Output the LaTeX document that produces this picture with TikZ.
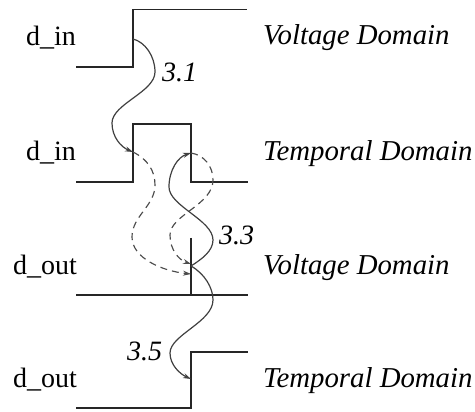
\documentclass[tikz,border=0pt]{standalone}
\usepackage{fontspec}
\setmainfont{Liberation Serif}
\usetikzlibrary{arrows.meta}
\begin{document}
\begin{tikzpicture}[x=1pt,y=-1pt,
  wave/.style={line width=1.7pt, color=black!85, line join=miter},
  link/.style={line width=1.2pt, color=black!75, -{Stealth[length=8pt,width=5pt]}},
  dlink/.style={line width=1.15pt, color=black!70, dash pattern=on 7pt off 5pt, -{Stealth[length=8pt,width=5pt]}},
  sig/.style={anchor=base west, inner sep=0pt, font=\fontsize{28}{32}\selectfont},
  dom/.style={anchor=base west, inner sep=0pt, font=\fontsize{28.8}{32}\selectfont\itshape},
  num/.style={anchor=base west, inner sep=0pt, font=\fontsize{28}{32}\selectfont\itshape}]
\useasboundingbox (0,0) rectangle (475,412);
\fill[white] (0,0) rectangle (475,412);

% waveforms
\draw[wave] (76,67) -- (133,67) -- (133,9.5) -- (247,9.5);
\draw[wave] (76,182) -- (133,182) -- (133,124) -- (191,124) -- (191,182) -- (248,182);
\draw[wave] (76,295) -- (248,295);
\draw[wave] (191,238) -- (191,295);
\draw[wave] (76,408) -- (191,408) -- (191,352) -- (248,352);

% labels
\node[sig] (l1) at (26,46) {d\_in};
\node[sig] (l2) at (26,161) {d\_in};
\node[sig] (l3) at (13,275) {d\_out};
\node[sig] (l4) at (13,387) {d\_out};
\node[dom] (r1) at (263,45) {Voltage Domain};
\node[dom] (r2) at (263,161) {Temporal Domain};
\node[dom] (r3) at (263,274) {Voltage Domain};
\node[dom] (r4) at (263,387) {Temporal Domain};
\node[num] (n31) at (162,82) {3.1};
\node[num] (n33) at (219,245) {3.3};
\node[num] (n35) at (127,360) {3.5};

% anchor points on the waveforms
\coordinate (vin) at (133,39);
\coordinate (tinr) at (133,152);
\coordinate (tinf) at (191,153);
\coordinate (vout) at (191,266);
\coordinate (voutA) at (191,274);
\coordinate (voutB) at (191,264);
\coordinate (tout) at (191,379);

% 3.1
\draw[link] (vin) .. controls (145,42) and (155,56) .. (155,72)
  .. controls (155,92) and (112,104) .. (112,123)
  .. controls (112,137) and (121,147) .. (tinr);
% 3.3
\draw[link] (vout) .. controls (202,259) and (213,251) .. (213,240)
  .. controls (213,220) and (169,206) .. (169,187)
  .. controls (169,170) and (178,157) .. (tinf);
% 3.5
\draw[link] (vout) .. controls (205,274) and (213,288) .. (213,300)
  .. controls (213,322) and (170,335) .. (170,353)
  .. controls (170,365) and (180,374) .. (tout);
% dashed
\draw[dlink] (tinr) .. controls (147,159) and (155,170) .. (155,185)
  .. controls (155,206) and (132,216) .. (132,237)
  .. controls (132,258) and (162,271) .. (voutA);
\draw[dlink] (tinf) .. controls (204,155) and (213,166) .. (213,180)
  .. controls (213,205) and (170,215) .. (170,235)
  .. controls (170,250) and (179,260) .. (voutB);
\end{tikzpicture}
\end{document}
